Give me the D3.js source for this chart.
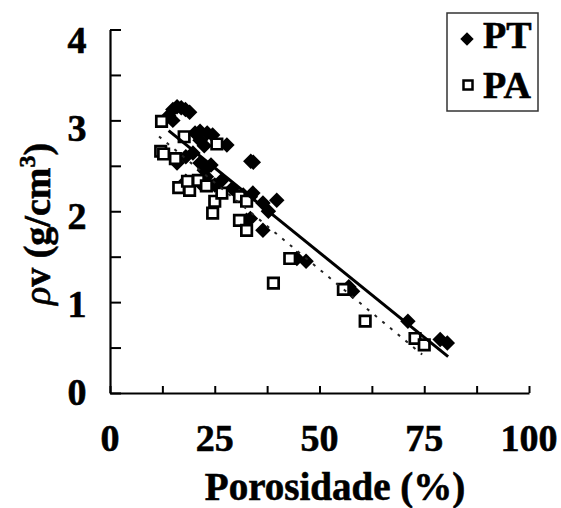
<!DOCTYPE html>
<html>
<head>
<meta charset="utf-8">
<script src="https://cdn.jsdelivr.net/npm/d3@7"></script>
<style>
  body { margin: 0; background: #fff; }
  text { font-family: "Liberation Serif", "Times New Roman", serif; font-weight: bold; fill: #000; stroke: #000; stroke-width: 0.6px; }
</style>
</head>
<body>
<svg id="chart" width="561" height="508"></svg>
<script>
// porosity (%) vs density
const ptData = [
  [14, 3.05], [15, 3.12], [16, 3.15], [17, 3.14], [18, 3.12], [19, 3.09], [15, 3.0],
  [20.3, 2.86], [21.5, 2.88], [23.2, 2.86], [24.5, 2.84], [21.5, 2.78], [22.5, 2.72], [27.9, 2.73],
  [33.6, 2.55], [34.2, 2.54],
  [16, 2.53], [18.1, 2.6], [19.8, 2.64], [21.5, 2.53], [24.1, 2.51], [22.5, 2.45],
  [18.1, 2.33], [21.5, 2.31], [25, 2.29], [23, 2.38],
  [26.7, 2.34], [29.2, 2.25], [31.8, 2.18], [33.5, 2.16], [34.1, 2.2], [36.5, 2.09], [37.8, 2.0], [39.8, 2.12],
  [33.5, 1.92], [32.6, 1.9], [36.5, 1.79],
  [44.6, 1.48], [46.8, 1.45], [57, 1.17], [57.9, 1.12], [71.1, 0.79], [78.8, 0.59], [80.5, 0.55]
];
const paData = [
  [12.3, 2.99], [12.1, 2.66], [12.8, 2.63], [17.7, 2.82], [25.5, 2.74], [15.6, 2.58],
  [16.4, 2.26], [19, 2.23], [18.5, 2.33], [21.1, 2.34], [23, 2.28],
  [24.5, 1.98], [25, 2.11], [26.7, 2.2], [30.9, 2.16], [32.6, 2.11], [30.9, 1.9], [32.6, 1.79],
  [42.9, 1.48], [39, 1.21], [55.7, 1.14], [60.9, 0.79], [72.8, 0.6], [75, 0.53]
];
// trend lines: [slope, intercept, xStart, xEnd]
const ptFit = [-0.0373, 3.41, 14, 80.7];
const paFit = [-0.0382, 3.27, 11.7, 74.5];

const xTicks = d3.range(0, 100.1, 12.5);
const xLabels = [0, 25, 50, 75, 100];
const yTicks = d3.range(0, 4.01, 0.5);
const yLabels = [0, 1, 2, 3, 4];

const svg = d3.select("#chart");

const x = d3.scaleLinear().domain([0, 100]).range([110, 529]);
const y = d3.scaleLinear().domain([0, 4]).range([393, 29.5]);
// tick numbers sit slightly off their ticks in the original
const yLab = d3.scaleLinear().domain([0, 4]).range([392, 40]);

// axes, ticks pointing inward, no labels
const xAxis = svg.append("g")
  .attr("transform", "translate(0," + y(0) + ")")
  .call(d3.axisBottom(x).tickValues(xTicks).tickSize(-7).tickSizeOuter(0).tickFormat(""));
const yAxis = svg.append("g")
  .attr("transform", "translate(" + x(0) + ",0)")
  .call(d3.axisLeft(y).tickValues(yTicks).tickSize(-11).tickSizeOuter(0).tickFormat(""));
[xAxis, yAxis].forEach(a => {
  a.select(".domain").attr("stroke", "#000").attr("stroke-width", 2.2);
  a.selectAll(".tick line").attr("stroke", "#000").attr("stroke-width", 2);
});

svg.append("g").selectAll("text")
  .data(xLabels)
  .enter()
  .append("text")
  .attr("x", d => x(d))
  .attr("y", 451)
  .attr("text-anchor", "middle")
  .style("font-size", "38px")
  .text(d => d);

svg.append("g").selectAll("text")
  .data(yLabels)
  .enter()
  .append("text")
  .attr("x", 77)
  .attr("y", d => yLab(d) + 13)
  .attr("text-anchor", "middle")
  .style("font-size", "38px")
  .text(d => d);

svg.append("text")
  .attr("x", 335)
  .attr("y", 500)
  .attr("text-anchor", "middle")
  .style("font-size", "39px")
  .text("Porosidade (%)");

const yTitle = svg.append("text")
  .attr("transform", "translate(50,224) rotate(-90)")
  .attr("text-anchor", "middle")
  .style("font-size", "38px");
yTitle.append("tspan").style("font-style", "italic").style("font-weight", "normal").text("\u03C1");
yTitle.append("tspan").text("v (g/cm");
yTitle.append("tspan").attr("dy", -15).style("font-size", "24px").text("3");
yTitle.append("tspan").attr("dy", 15).text(")");

// markers
const diamond = d3.symbol().type(d3.symbolSquare).size(120);
const square = d3.symbol().type(d3.symbolSquare).size(110);

svg.append("g").selectAll("path")
  .data(ptData)
  .enter()
  .append("path")
  .attr("d", diamond)
  .attr("transform", d => "translate(" + x(d[0]) + "," + y(d[1]) + ") rotate(45)")
  .attr("fill", "#000");

svg.append("g").selectAll("path")
  .data(paData)
  .enter()
  .append("path")
  .attr("d", square)
  .attr("transform", d => "translate(" + x(d[0]) + "," + y(d[1]) + ")")
  .attr("fill", "#fff")
  .attr("stroke", "#000")
  .attr("stroke-width", 2.7);

// trend lines
const fitLine = f => [[f[2], f[0] * f[2] + f[1]], [f[3], f[0] * f[3] + f[1]]];
const line = d3.line().x(d => x(d[0])).y(d => y(d[1]));

svg.append("path")
  .datum(fitLine(ptFit))
  .attr("d", line)
  .attr("fill", "none")
  .attr("stroke", "#000")
  .attr("stroke-width", 3);

svg.append("path")
  .datum(fitLine(paFit))
  .attr("d", line)
  .attr("fill", "none")
  .attr("stroke", "#222")
  .attr("stroke-width", 2)
  .attr("stroke-dasharray", "3,7");

// legend
const legend = svg.append("g");
legend.append("rect")
  .attr("x", 447).attr("y", 13).attr("width", 91).attr("height", 98)
  .attr("fill", "#fff").attr("stroke", "#333").attr("stroke-width", 1.5);
legend.append("path")
  .attr("d", d3.symbol().type(d3.symbolSquare).size(90))
  .attr("transform", "translate(467,39) rotate(45)")
  .attr("fill", "#000");
legend.append("path")
  .attr("d", d3.symbol().type(d3.symbolSquare).size(81))
  .attr("transform", "translate(468,85)")
  .attr("fill", "#fff").attr("stroke", "#000").attr("stroke-width", 2.5);
legend.append("text").attr("x", 483).attr("y", 48).style("font-size", "38px").text("PT");
legend.append("text").attr("x", 483).attr("y", 98).style("font-size", "38px").text("PA");
</script>
</body>
</html>
